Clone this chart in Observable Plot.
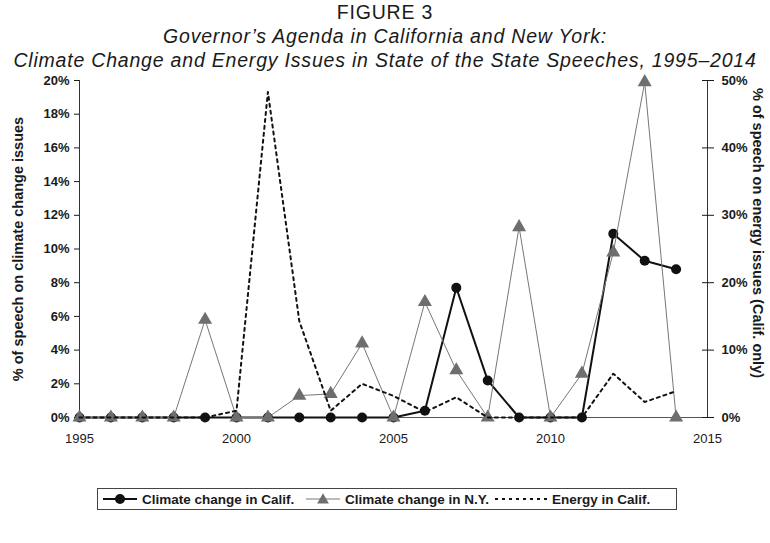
<!DOCTYPE html>
<html>
<head>
<meta charset="utf-8">
<script src="https://cdn.jsdelivr.net/npm/d3@7"></script>
<script src="https://cdn.jsdelivr.net/npm/@observablehq/plot@0.6"></script>
<style>
  body { margin: 0; background: #fff; font-family: "Liberation Sans", Arial, sans-serif; }
  #wrap { position: relative; width: 770px; height: 543px; }
  .t { text-align: center; color: #1a1a1a; font-size: 19.5px; line-height: 24px; letter-spacing: 0.8px; white-space: nowrap; }
  .i { font-style: italic; }
  #legend { position: absolute; left: 97px; top: 488px; width: 578px; height: 20px; border: 1px solid #444;
    font-weight: bold; font-size: 13.5px; color: #1a1a1a; }
  #legend .item { position: absolute; top: 0; height: 20px; display: flex; align-items: center; white-space: nowrap; }
  #legend svg { margin-right: 5px; }
</style>
</head>
<body>
<div id="wrap">
  <div id="titles" style="padding-top:0px">
    <div class="t">FIGURE 3</div>
    <div class="t i">Governor’s Agenda in California and New York:</div>
    <div class="t i">Climate Change and Energy Issues in State of the State Speeches, 1995–2014</div>
  </div>
  <div id="chart" style="position:absolute; left:0; top:72px;"></div>
  <div id="legend"></div>
</div>
<script>
const years = [1995,1996,1997,1998,1999,2000,2001,2002,2003,2004,2005,2006,2007,2008,2009,2010,2011,2012,2013,2014];
// % of speech on climate change issues (left axis)
const climateCalif = [0,0,0,0,0,0,0,0,0,0,0,0.4,7.7,2.2,0,0,0,10.9,9.3,8.8];
const climateNY    = [0,0,0,0,5.8,0,0,1.3,1.4,4.4,0,6.85,2.8,0,11.3,0,2.6,9.8,19.9,0];
// % of speech on energy issues, California only (right axis)
const energyCalif  = [0,0,0,0,0,1,48.3,14.3,1,5,3.2,0.8,3,0,0,0,0,6.5,2.3,3.9];
const leftTicks = [0,2,4,6,8,10,12,14,16,18,20];
const rightTicks = [0,10,20,30,40,50];
const xTicks = [1995,2000,2005,2010,2015];
const seriesNames = ["Climate change in Calif.","Climate change in N.Y.","Energy in Calif."];

const ratio = 20/50; // right-axis value -> left-axis units
const dCal = years.map((y,i)=>({year:y, v:climateCalif[i]}));
const dNY = years.map((y,i)=>({year:y, v:climateNY[i]}));
const dEn = years.map((y,i)=>({year:y, v:energyCalif[i]*ratio}));

const font = "Liberation Sans, Arial, sans-serif";
const chart = Plot.plot({
  width: 770,
  height: 410,
  marginTop: 8,
  marginBottom: 65,
  marginLeft: 79,
  marginRight: 63,
  style: {fontFamily: font, fontSize: "13px", color: "#1a1a1a", background: "white", overflow: "visible"},
  x: {domain: [1995, 2015]},
  y: {domain: [0, 20]},
  marks: [
    Plot.ruleY([0], {stroke: "#555", strokeWidth: 1}),
    Plot.ruleX([1995], {stroke: "#333", strokeWidth: 1}),
    Plot.ruleX([2015], {stroke: "#333", strokeWidth: 1}),
    Plot.axisX({ticks: xTicks, tickFormat: "d", tickSize: 0, tickPadding: 16, label: null, fontSize: 13}),
    Plot.axisY({anchor: "left", ticks: leftTicks, tickFormat: d => d + "%", tickSize: 5, tickPadding: 5,
      fontWeight: "bold", fontSize: 13, label: null}),
    Plot.axisY({anchor: "right", ticks: rightTicks.map(d => d*ratio), tickFormat: d => Math.round(d/ratio) + "%",
      tickSize: 6, tickPadding: 8, fontWeight: "bold", fontSize: 13, label: null}),
    Plot.axisY({anchor: "right", ticks: rightTicks.map(d => d*ratio), tickFormat: null, text: null, tickSize: 6, dx: -6, label: null}),
    Plot.text(["% of speech on climate change issues"], {frameAnchor: "left", textAnchor: "middle", rotate: -90, dx: -61, fontWeight: "bold", fontSize: 14.5}),
    Plot.text(["% of speech on energy issues (Calif. only)"], {frameAnchor: "right", textAnchor: "middle", rotate: 90, dx: 50, dy: -16, fontWeight: "bold", fontSize: 14.5}),
    Plot.line(dCal, {x: "year", y: "v", stroke: "#111", strokeWidth: 2}),
    Plot.dot(dCal, {x: "year", y: "v", fill: "#111", r: 5, stroke: null}),
    Plot.line(dNY, {x: "year", y: "v", stroke: "#777", strokeWidth: 1}),
    Plot.dot(dNY, {x: "year", y: "v", fill: "#6e6e6e", symbol: "triangle", r: 5.2, stroke: null}),
    Plot.line(dEn, {x: "year", y: "v", stroke: "#111", strokeWidth: 2, strokeDasharray: "3,4"})
  ]
});
document.getElementById("chart").appendChild(chart);

// legend
const lg = d3.select("#legend");
const styles = [
  {stroke: "#111", w: 2, dash: null, sym: "circle", left: 5, len: 34},
  {stroke: "#777", w: 1, dash: null, sym: "triangle", left: 208, len: 34},
  {stroke: "#111", w: 2, dash: "3,4", sym: null, left: 397, len: 52}
];
seriesNames.forEach((name, i) => {
  const st = styles[i];
  const it = lg.append("div").attr("class", "item").style("left", st.left + "px");
  const s = it.append("svg").attr("width", st.len).attr("height", 14);
  s.append("line").attr("x1", 0).attr("x2", st.len).attr("y1", 7).attr("y2", 7)
    .attr("stroke", st.stroke).attr("stroke-width", st.w).attr("stroke-dasharray", st.dash);
  if (st.sym === "circle") s.append("circle").attr("cx", st.len/2).attr("cy", 7).attr("r", 5).attr("fill", "#111");
  if (st.sym === "triangle") s.append("path").attr("d", d3.symbol(d3.symbolTriangle, 60)()).attr("transform", `translate(${st.len/2},8)`).attr("fill", "#6e6e6e");
  it.append("span").text(name);
});
</script>
</body>
</html>
